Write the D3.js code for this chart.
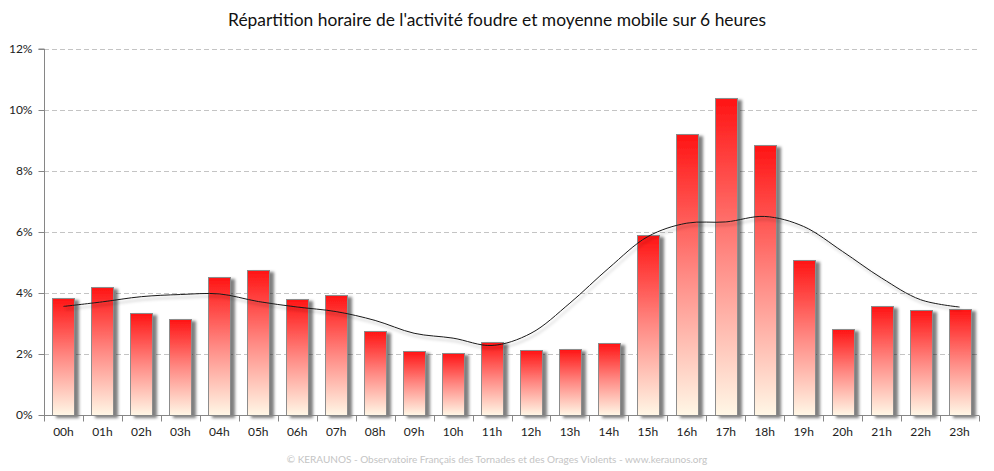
<!DOCTYPE html>
<html lang="fr">
<head>
<meta charset="UTF-8">
<title>Répartition horaire foudre</title>
<script src="https://cdn.jsdelivr.net/npm/d3@7/dist/d3.min.js"></script>
<style>
  body { margin: 0; background: #fff; }
  svg { display: block; }
</style>
</head>
<body>
<div id="container"></div>
<script>
const width = 994;
const height = 471;
const margin = { top: 49, right: 15, bottom: 56, left: 44 };

// données
const hours = ['00h','01h','02h','03h','04h','05h','06h','07h','08h','09h','10h','11h',
               '12h','13h','14h','15h','16h','17h','18h','19h','20h','21h','22h','23h'];
const activity = [3.83, 4.20, 3.34, 3.14, 4.53, 4.76, 3.81, 3.94, 2.76, 2.09, 2.03, 2.39,
                  2.12, 2.16, 2.36, 5.91, 9.22, 10.38, 8.84, 5.09, 2.82, 3.57, 3.44, 3.49];
const movingAvg = [3.56, 3.71, 3.88, 3.95, 3.97, 3.72, 3.54, 3.39, 3.10, 2.68, 2.52, 2.28,
                   2.68, 3.67, 4.82, 5.85, 6.29, 6.33, 6.51, 6.18, 5.36, 4.49, 3.78, 3.54];
const yTicks = [0, 2, 4, 6, 8, 10, 12];

const title = "Répartition horaire de l'activité foudre et moyenne mobile sur 6 heures";
const footer = "© KERAUNOS - Observatoire Français des Tornades et des Orages Violents - www.keraunos.org";

const svg = d3.select('#container').append('svg')
    .attr('width', width)
    .attr('height', height);

const defs = svg.append('defs');
const grad = defs.append('linearGradient')
    .attr('id', 'barGrad')
    .attr('x1', 0).attr('y1', 0).attr('x2', 0).attr('y2', 1);
grad.append('stop').attr('offset', '0%').attr('stop-color', '#ff1414');
grad.append('stop').attr('offset', '50%').attr('stop-color', '#ff8a84');
grad.append('stop').attr('offset', '100%').attr('stop-color', '#fff7e6');

const shadow = defs.append('filter').attr('id', 'shadow')
    .attr('x', '-20%').attr('y', '-20%').attr('width', '160%').attr('height', '140%');
shadow.append('feDropShadow')
    .attr('dx', 4).attr('dy', 2).attr('stdDeviation', 1.6)
    .attr('flood-color', '#000').attr('flood-opacity', 0.5);

const lineShadow = defs.append('filter').attr('id', 'lineShadow')
    .attr('x', '-5%').attr('y', '-20%').attr('width', '110%').attr('height', '140%');
lineShadow.append('feDropShadow')
    .attr('dx', 2).attr('dy', 3).attr('stdDeviation', 1.5)
    .attr('flood-color', '#000').attr('flood-opacity', 0.3);

const x = d3.scaleBand()
    .domain(hours)
    .range([margin.left, width - margin.right])
    .paddingInner(0.435)
    .paddingOuter(0.2175);

const y = d3.scaleLinear()
    .domain([0, 12])
    .range([height - margin.bottom, margin.top]);

const axisColor = '#868686';

// grille
svg.append('g')
    .selectAll('line')
    .data(yTicks.filter(d => d > 0))
    .join('line')
    .attr('x1', margin.left)
    .attr('x2', width - margin.right)
    .attr('y1', d => Math.round(y(d)) + 0.5)
    .attr('y2', d => Math.round(y(d)) + 0.5)
    .attr('stroke', '#c4c4c4')
    .attr('stroke-dasharray', '5,3');

// titre
svg.append('text')
    .attr('x', width / 2)
    .attr('y', 26)
    .attr('text-anchor', 'middle')
    .attr('font-family', 'Lato, sans-serif')
    .attr('font-size', 17.4)
    .attr('fill', '#111')
    .text(title);

// barres
svg.append('g')
    .selectAll('rect')
    .data(activity)
    .join('rect')
    .attr('x', (d, i) => Math.round(x(hours[i])) + 0.5)
    .attr('y', d => Math.round(y(d)) + 0.5)
    .attr('width', Math.round(x.bandwidth()))
    .attr('height', d => Math.round(y(0)) - Math.round(y(d)))
    .attr('fill', 'url(#barGrad)')
    .attr('stroke', '#8c8c8c')
    .attr('stroke-width', 1)
    .attr('filter', 'url(#shadow)');

// moyenne mobile
const line = d3.line()
    .x((d, i) => x(hours[i]) + x.bandwidth() / 2)
    .y(d => y(d))
    .curve(d3.curveCatmullRom.alpha(0.5));

svg.append('path')
    .datum(movingAvg)
    .attr('d', line)
    .attr('fill', 'none')
    .attr('stroke', '#1a1a1a')
    .attr('stroke-width', 1)
    .attr('filter', 'url(#lineShadow)');

// axe Y
const yAxis = svg.append('g')
    .attr('transform', `translate(${margin.left + 0.5},0)`)
    .call(d3.axisLeft(y).tickValues(yTicks).tickFormat(d => d + '%').tickSize(6).tickPadding(6));
yAxis.select('.domain').attr('stroke', axisColor).attr('d', `M-6,${y(12)}H0V${y(0)}`);
yAxis.selectAll('.tick line').attr('stroke', axisColor);
yAxis.selectAll('.tick text')
    .attr('font-family', 'Lato, sans-serif')
    .attr('font-size', 12)
    .attr('fill', '#222');

// axe X
const xAxis = svg.append('g').attr('transform', `translate(0,${Math.round(y(0)) + 0.5})`);
xAxis.append('line')
    .attr('x1', margin.left)
    .attr('x2', width - margin.right)
    .attr('stroke', axisColor);
xAxis.selectAll('line.tick')
    .data(d3.range(hours.length + 1))
    .join('line')
    .attr('class', 'tick')
    .attr('x1', i => Math.round(x.range()[0] + i * x.step()) + 0.5)
    .attr('x2', i => Math.round(x.range()[0] + i * x.step()) + 0.5)
    .attr('y1', 0)
    .attr('y2', 6)
    .attr('stroke', axisColor);
xAxis.selectAll('text')
    .data(hours)
    .join('text')
    .attr('x', d => x(d) + x.bandwidth() / 2)
    .attr('y', 20)
    .attr('text-anchor', 'middle')
    .attr('font-family', 'Lato, sans-serif')
    .attr('font-size', 12)
    .attr('fill', '#222')
    .text(d => d);

// pied de page
svg.append('text')
    .attr('x', width / 2)
    .attr('y', 463)
    .attr('text-anchor', 'middle')
    .attr('font-family', 'Lato, sans-serif')
    .attr('font-size', 10)
    .attr('fill', '#c4c4c4')
    .text(footer);
</script>
</body>
</html>
